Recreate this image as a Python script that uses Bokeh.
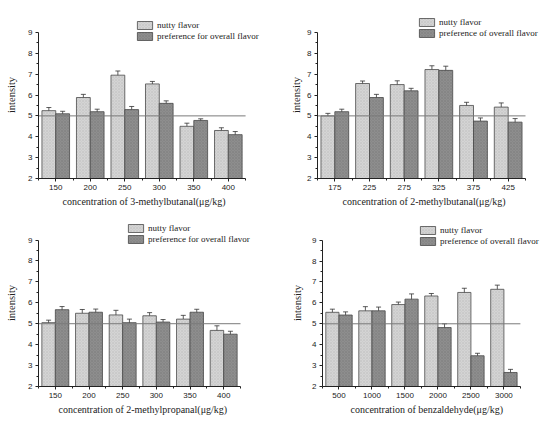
from bokeh.plotting import figure
from bokeh.models import (Range1d, FixedTicker, Whisker, TeeHead, ColumnDataSource,
                          Legend, LegendItem, Title)
from bokeh.layouts import column, row
from bokeh.embed import file_html
from bokeh.resources import INLINE

# ---------- data ----------
labels1 = ["150", "200", "250", "300", "350", "400"]
nutty1 = [5.25, 5.88, 6.95, 6.53, 4.50, 4.30]
nutty1_err = [0.15, 0.15, 0.2, 0.12, 0.15, 0.13]
pref1 = [5.10, 5.20, 5.30, 5.60, 4.78, 4.10]
pref1_err = [0.12, 0.12, 0.15, 0.12, 0.08, 0.15]

labels2 = ["175", "225", "275", "325", "375", "425"]
nutty2 = [5.00, 6.55, 6.50, 7.22, 5.50, 5.42]
nutty2_err = [0.12, 0.12, 0.18, 0.18, 0.15, 0.2]
pref2 = [5.20, 5.88, 6.20, 7.18, 4.75, 4.70]
pref2_err = [0.12, 0.15, 0.12, 0.2, 0.15, 0.17]

labels3 = ["150", "200", "250", "300", "350", "400"]
nutty3 = [5.05, 5.50, 5.42, 5.38, 5.22, 4.68]
nutty3_err = [0.12, 0.18, 0.22, 0.15, 0.18, 0.22]
pref3 = [5.67, 5.55, 5.05, 5.08, 5.55, 4.50]
pref3_err = [0.15, 0.15, 0.17, 0.12, 0.14, 0.14]

labels4 = ["500", "1000", "1500", "2000", "2500", "3000"]
nutty4 = [5.55, 5.62, 5.92, 6.33, 6.50, 6.65]
nutty4_err = [0.15, 0.2, 0.12, 0.12, 0.2, 0.2]
pref4 = [5.42, 5.62, 6.18, 4.82, 3.47, 2.67]
pref4_err = [0.15, 0.18, 0.25, 0.18, 0.12, 0.15]

titles = ["concentration of 3-methylbutanal(\u03bcg/kg)",
          "concentration of 2-methylbutanal(\u03bcg/kg)",
          "concentration of 2-methylpropanal(\u03bcg/kg)",
          "concentration of benzaldehyde(\u03bcg/kg)"]
y_title = "intensity"
legend_a = "nutty flavor"
legend_b = ["preference for overall flavor", "preference of overall flavor",
            "preference for overall flavor", "preference of overall flavor"]
reference_level = 5
y_min, y_max = 2, 9

SERIF = "Liberation Serif"
SANS = "Liberation Sans"
LIGHT = "#d4d4d4"
DARK = "#8e8e8e"
EDGE = "#4a4a4a"


def panel(labels, a, ae, b, be, xtitle, bname, size, borders, x_end, y_end, leg_loc,
          ylab_standoff, title_offset):
    left, right, top, bottom = borders
    n = len(labels)
    p = figure(width=size[0], height=size[1], output_backend="svg", toolbar_location=None,
               x_range=Range1d(-0.5, x_end), y_range=Range1d(y_min, y_end),
               min_border_left=left, min_border_right=right,
               min_border_top=top, min_border_bottom=bottom)
    p.outline_line_color = None
    p.xgrid.grid_line_color = None
    p.ygrid.grid_line_color = None
    xs = list(range(n))
    xa = [x - 0.2 for x in xs]
    xb = [x + 0.2 for x in xs]
    src = ColumnDataSource(dict(xa=xa, xb=xb, a=a, b=b,
                                a_lo=[v - e for v, e in zip(a, ae)], a_hi=[v + e for v, e in zip(a, ae)],
                                b_lo=[v - e for v, e in zip(b, be)], b_hi=[v + e for v, e in zip(b, be)]))
    ra = p.vbar(x="xa", top="a", bottom=y_min, width=0.4, source=src, fill_color=LIGHT,
                line_color=EDGE, line_width=0.8, hatch_pattern="diagonal_cross",
                hatch_color="#c0c0c0", hatch_scale=3, hatch_weight=0.5)
    rb = p.vbar(x="xb", top="b", bottom=y_min, width=0.4, source=src, fill_color=DARK,
                line_color=EDGE, line_width=0.8, hatch_pattern="diagonal_cross",
                hatch_color="#7c7c7c", hatch_scale=3, hatch_weight=0.5)
    for lo, hi, xk in (("a_lo", "a_hi", "xa"), ("b_lo", "b_hi", "xb")):
        w = Whisker(source=src, base=xk, lower=lo, upper=hi, line_color="#333333", line_width=0.8,
                    upper_head=TeeHead(size=5, line_color="#333333", line_width=0.8),
                    lower_head=TeeHead(size=5, line_color="#333333", line_width=0.8))
        p.add_layout(w)
    p.segment(x0=-0.5, x1=n - 0.5, y0=reference_level, y1=reference_level,
              line_color="#7a7a7a", line_width=1)

    p.xaxis.ticker = FixedTicker(ticks=xs, minor_ticks=[x + 0.5 for x in [-1] + xs])
    p.xaxis.major_label_overrides = {x: l for x, l in zip(xs, labels)}
    p.xaxis.bounds = (-0.5, n - 0.5)
    p.yaxis.ticker = FixedTicker(ticks=list(range(y_min, y_max + 1)),
                                 minor_ticks=[v + 0.5 for v in range(y_min, y_max)])
    p.yaxis.bounds = (y_min, y_max)
    for ax in (p.xaxis[0], p.yaxis[0]):
        ax.axis_line_color = "#222222"
        ax.major_tick_line_color = "#222222"
        ax.minor_tick_line_color = "#222222"
        ax.major_tick_out = 3
        ax.major_tick_in = 0
        ax.minor_tick_out = 2
        ax.minor_tick_in = 0
        ax.major_label_text_font = SANS
        ax.major_label_text_font_size = "8px"
        ax.major_label_text_color = "#222222"
        ax.axis_label_text_font = SERIF
        ax.axis_label_text_font_style = "normal"
        ax.axis_label_text_color = "#222222"
        ax.major_label_standoff = 3
    p.yaxis.axis_label = y_title
    p.yaxis.axis_label_text_font_size = "10.5px"
    p.yaxis.axis_label_standoff = ylab_standoff

    # x title placed under the axis bounds (the frame extends right to hold the legend)
    p.add_layout(Title(text=xtitle, align="left", offset=title_offset, standoff=3,
                       text_font=SERIF, text_font_style="normal", text_font_size="10px",
                       text_color="#222222"), "below")

    leg = Legend(items=[LegendItem(label=legend_a, renderers=[ra]),
                        LegendItem(label=bname, renderers=[rb])],
                 location=leg_loc, padding=0, margin=0, spacing=1,
                 glyph_width=19, glyph_height=10, label_height=10, label_standoff=3,
                 label_text_font=SERIF, label_text_font_size="9px", label_text_color="#222222",
                 border_line_alpha=0, background_fill_alpha=0)
    p.add_layout(leg, "center")
    return p


p1 = panel(labels1, nutty1, nutty1_err, pref1, pref1_err, titles[0], legend_b[0],
           (275, 212), (38, 3, 11, 34), 6.28, 10.0, (97, 137), 8, 24)
p2 = panel(labels2, nutty2, nutty2_err, pref2, pref2_err, titles[1], legend_b[1],
           (270, 212), (42, 3, 11, 32), 5.99, 10.0, (100, 140), 2, 25)
p3 = panel(labels3, nutty3, nutty3_err, pref3, pref3_err, titles[2], legend_b[2],
           (275, 204), (38, 3, 5, 28), 6.45, 9.98, (88, 142), 8, 20)
p4 = panel(labels4, nutty4, nutty4_err, pref4, pref4_err, titles[3], legend_b[3],
           (270, 204), (47, 3, 7, 28), 6.17, 9.99, (96, 140), 6, 28)

layout = column(row(p1, p2), row(p3, p4))
open("out.html", "w").write(file_html(layout, INLINE))
